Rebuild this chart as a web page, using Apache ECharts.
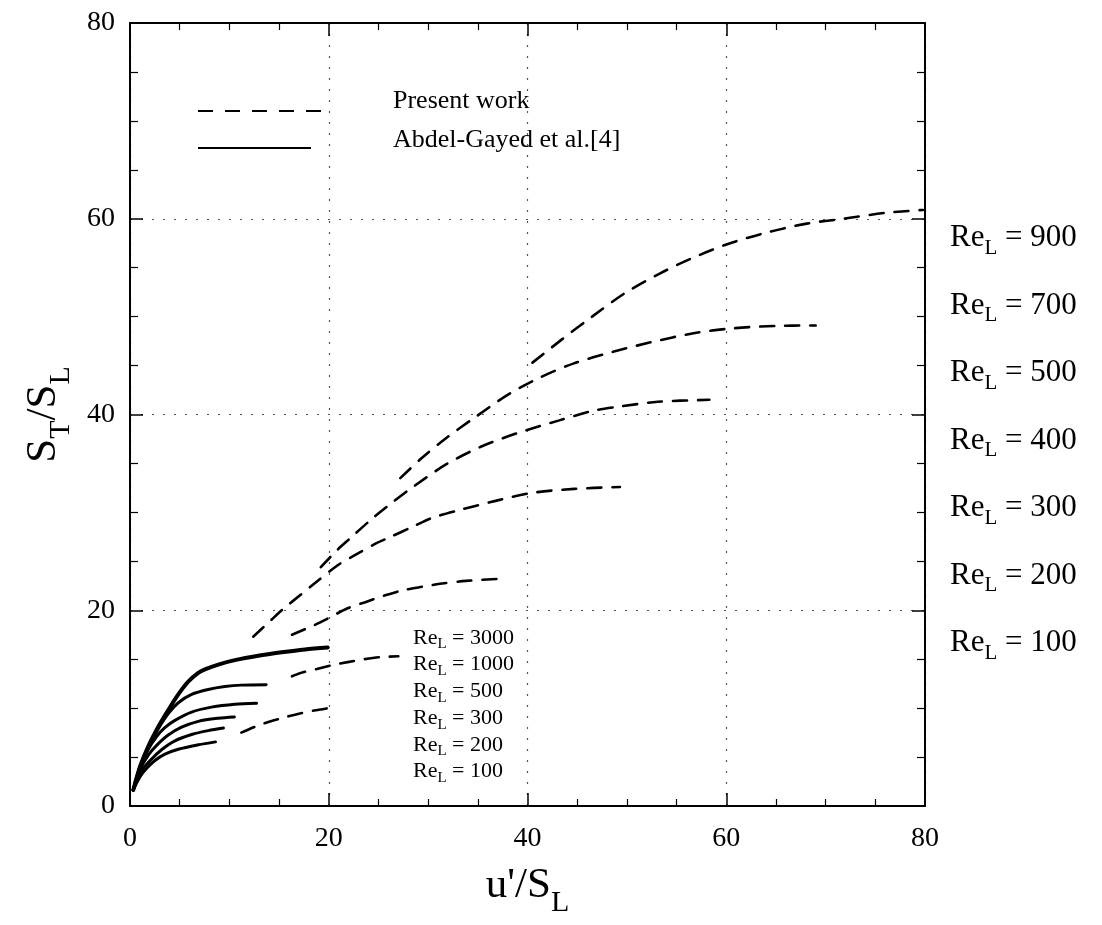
<!DOCTYPE html>
<html>
<head>
<meta charset="utf-8">
<script src="https://cdn.jsdelivr.net/npm/echarts@6/dist/echarts.min.js"></script>
<style>
  html, body { margin: 0; padding: 0; background: #fff; }
  #chart { width: 1102px; height: 925px; }
</style>
</head>
<body>
<div id="chart"></div>
<script>
// Turbulent burning velocity S_T/S_L against turbulence intensity u'/S_L.
// Dashed: present model, one curve per Re_L. Solid: Abdel-Gayed et al. correlation.

const presentReL = ['900', '700', '500', '400', '300', '200', '100'];
const present900 = [[40.5,45.3],[43.5,47.7],[46.5,50.0],[49.8,52.4],[53.3,54.4],[56.4,55.9],[60.1,57.4],[64.1,58.6],[68.1,59.5],[71.8,60.0],[76.0,60.6],[79.8,60.9]];
const present700 = [[27.2,33.5],[29.3,35.5],[31.7,37.5],[34.7,39.7],[38.0,42.0],[41.3,43.8],[44.6,45.2],[48.6,46.4],[52.5,47.4],[56.7,48.3],[60.6,48.8],[65.0,49.05],[69.0,49.1]];
const present500 = [[19.2,24.4],[20.8,26.1],[22.1,27.3],[24.3,29.3],[26.0,30.7],[28.2,32.4],[31.8,34.9],[35.3,36.7],[39.0,38.1],[43.2,39.4],[46.7,40.4],[49.2,40.8],[53.1,41.3],[58.3,41.5]];
const present400 = [[12.4,17.3],[14.1,18.9],[15.5,20.2],[17.2,21.6],[18.4,22.6],[20.9,24.6],[22.4,25.5],[24.7,26.8],[26.0,27.4],[28.6,28.6],[30.3,29.4],[33.0,30.2],[36.9,31.2],[40.5,32.0],[44.7,32.4],[49.3,32.6]];
const present300 = [[16.3,17.5],[18.6,18.5],[19.8,19.1],[21.9,20.2],[23.6,20.8],[25.6,21.5],[27.3,22.0],[29.4,22.4],[31.2,22.7],[33.8,23.0],[37.0,23.2]];
const present200 = [[16.3,13.25],[17.4,13.66],[18.8,14.0],[20.4,14.4],[21.9,14.7],[23.6,15.0],[25.1,15.2],[27.0,15.3]];
const present100 = [[11.2,7.5],[12.7,8.15],[14.0,8.6],[15.7,9.1],[17.1,9.45],[18.5,9.75],[20.6,10.1]];

const abdelReL = ['3000', '1000', '500', '300', '200', '100'];
const abdel3000 = [[0.33,1.64],[1.0,4.0],[1.84,6.1],[2.85,8.1],[3.85,9.8],[4.86,11.4],[5.86,12.7],[6.87,13.6],[7.54,13.95],[8.88,14.45],[10.55,14.9],[12.9,15.35],[15.24,15.7],[17.6,16.0],[19.9,16.2]];
const abdel1000 = [[0.33,1.64],[1.0,4.0],[1.84,6.0],[2.85,7.9],[3.85,9.45],[4.86,10.55],[6.2,11.4],[7.87,11.9],[9.55,12.2],[11.2,12.35],[13.7,12.4]];
const abdel500 = [[0.33,1.64],[1.0,3.9],[1.84,5.8],[2.68,7.1],[3.5,8.0],[4.52,8.75],[6.2,9.6],[8.2,10.1],[10.55,10.4],[12.73,10.5]];
const abdel300 = [[0.33,1.64],[1.0,3.7],[1.84,5.2],[2.68,6.2],[3.85,7.25],[5.19,8.05],[6.87,8.65],[8.88,8.97],[10.5,9.1]];
const abdel200 = [[0.33,1.64],[1.0,3.4],[2.18,4.8],[3.18,5.75],[4.52,6.65],[6.2,7.3],[7.87,7.7],[9.4,7.96]];
const abdel100 = [[0.33,1.64],[1.01,3.0],[1.68,3.86],[2.51,4.65],[3.52,5.3],[4.86,5.8],[6.87,6.25],[8.6,6.55]];

const legendTexts = ['Present work', 'Abdel-Gayed et al.[4]'];

const SERIF = "'Liberation Serif', 'Times New Roman', 'DejaVu Serif', serif";

// rich text styles for "Re_L = n" with a lowered subscript
function subRich(size, subSize, drop) {
  return {
    n: { fontFamily: SERIF, fontSize: size, color: '#000', verticalAlign: 'top', lineHeight: size },
    s: { fontFamily: SERIF, fontSize: subSize, color: '#000', verticalAlign: 'top', lineHeight: subSize, padding: [drop, 0, 0, 0] }
  };
}
function reText(v) { return '{n|Re}{s|L}{n| = ' + v + '}'; }

function dashed(name, data) {
  return {
    name: name, type: 'line', data: data, smooth: 0.3, showSymbol: false, symbol: 'none',
    silent: true, z: 3,
    lineStyle: { color: '#000', width: 2.6, type: [14, 11], cap: 'round' }
  };
}
function solid(name, data, w) {
  return {
    name: name, type: 'line', data: data, smooth: 0.3, showSymbol: false, symbol: 'none',
    silent: true, z: 4,
    lineStyle: { color: '#000', width: w, cap: 'round', join: 'round' }
  };
}

const presentData = [present900, present700, present500, present400, present300, present200, present100];
const abdelData = [abdel3000, abdel1000, abdel500, abdel300, abdel200, abdel100];

const series = [];
presentReL.forEach((re, i) => series.push(dashed('Present Re ' + re, presentData[i])));
abdelReL.forEach((re, i) => series.push(solid('Abdel-Gayed Re ' + re, abdelData[i], i === 0 ? 4 : 3)));

const tickLine = { color: '#000', width: 1.5 };

function mirrorX(pos, labelled) {
  return {
    type: 'value', min: 0, max: 80, interval: 20, position: pos,
    axisLine: { show: true, onZero: false, lineStyle: { color: '#000', width: 2 } },
    axisTick: { show: true, inside: true, length: 13, lineStyle: tickLine },
    minorTick: { show: true, splitNumber: 4, length: 7, lineStyle: { color: '#000', width: 1.2 } },
    axisLabel: labelled ? { show: true, fontFamily: SERIF, fontSize: 28, color: '#000', margin: 19 } : { show: false },
    splitLine: labelled ? { show: true, lineStyle: { type: [2, 9], color: '#555', width: 1.2 } } : { show: false }
  };
}
function mirrorY(pos, labelled) {
  return {
    type: 'value', min: 0, max: 80, interval: 20, position: pos,
    axisLine: { show: true, onZero: false, lineStyle: { color: '#000', width: 2 } },
    axisTick: { show: true, inside: true, length: 13, lineStyle: tickLine },
    minorTick: { show: true, splitNumber: 4, length: 8, lineStyle: { color: '#000', width: 1.2 } },
    axisLabel: labelled ? { show: true, fontFamily: SERIF, fontSize: 28, color: '#000', margin: 15 } : { show: false },
    splitLine: labelled ? { show: true, lineStyle: { type: [2, 9], color: '#555', width: 1.2 } } : { show: false }
  };
}

const xMain = mirrorX('bottom', true);
xMain.name = "{n|u'/S}{s|L}";
xMain.nameLocation = 'middle';
xMain.nameGap = 58;
xMain.nameTextStyle = { rich: subRich(43, 30, 24) };
const yMain = mirrorY('left', true);
yMain.name = '{n|S}{s|T}{n|/S}{s|L}';
yMain.nameLocation = 'middle';
yMain.nameRotate = 90;
yMain.nameGap = 64;
yMain.nameTextStyle = { rich: subRich(43, 30, 24) };

const graphics = [
  { type: 'line', shape: { x1: 198, y1: 111, x2: 323, y2: 111 }, style: { stroke: '#000', lineWidth: 2, lineDash: [15, 12] } },
  { type: 'line', shape: { x1: 198, y1: 148, x2: 311, y2: 148 }, style: { stroke: '#000', lineWidth: 2.2 } },
  { type: 'text', x: 393, y: 101, style: { text: legendTexts[0], fontFamily: SERIF, fontSize: 26, fill: '#000', align: 'left', verticalAlign: 'middle' } },
  { type: 'text', x: 393, y: 140, style: { text: legendTexts[1], fontFamily: SERIF, fontSize: 26, fill: '#000', align: 'left', verticalAlign: 'middle' } }
];
// Re_L labels at the right margin, one per present-work curve
presentReL.forEach((re, i) => {
  graphics.push({ type: 'text', x: 950, y: 238 + i * 67.5,
    style: { text: reText(re), rich: subRich(31, 21, 15), align: 'left', verticalAlign: 'middle' } });
});
// Re_L list for the correlation curves, inside the plot
abdelReL.forEach((re, i) => {
  graphics.push({ type: 'text', x: 413, y: 638 + i * 26.7,
    style: { text: reText(re), rich: subRich(22, 15, 10), align: 'left', verticalAlign: 'middle' } });
});

const chart = echarts.init(document.getElementById('chart'), null, { renderer: 'canvas' });
chart.setOption({
  animation: false,
  backgroundColor: '#fff',
  grid: { left: 130, right: 177, top: 23, bottom: 119, containLabel: false, outerBoundsMode: 'none' },
  xAxis: [xMain, mirrorX('top', false)],
  yAxis: [yMain, mirrorY('right', false)],
  series: series,
  graphic: graphics
});
</script>
</body>
</html>
